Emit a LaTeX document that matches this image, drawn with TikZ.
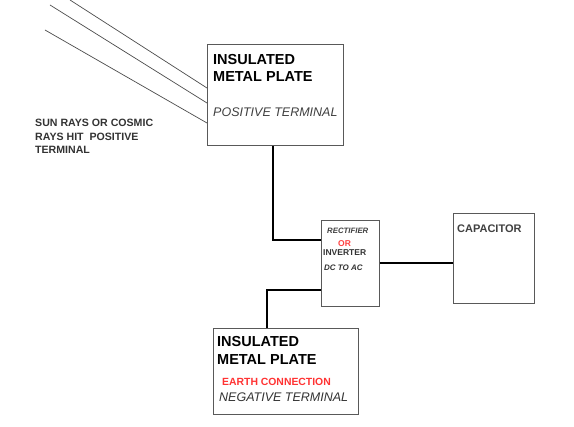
\documentclass[tikz,border=0pt]{standalone}
\usepackage{fontspec}
\setmainfont{Liberation Sans}
\begin{document}
\begin{tikzpicture}[x=1pt,y=-1pt,
  box/.style={draw=black!65,line width=0.8pt,inner sep=0pt,anchor=north west},
  wire/.style={line width=2.6pt,black},
  ray/.style={line width=0.7pt,black!70},
  lbl/.style={anchor=base west,inner sep=0pt,text=black!85}]
\useasboundingbox[fill=white] (0,0) rectangle (574,427);
% boxes
\node[box,minimum width=136pt,minimum height=101pt] (top) at (207,44) {};
\node[box,minimum width=58pt,minimum height=86pt] (rect) at (321,220) {};
\node[box,minimum width=81pt,minimum height=90pt] (cap) at (453,213) {};
\node[box,minimum width=145pt,minimum height=86pt] (bot) at (213,328) {};
% texts top box
\node[lbl,font=\fontsize{14.5}{16}\selectfont\bfseries,text=black] (t1) at (213,65) {INSULATED};
\node[lbl,font=\fontsize{14.5}{16}\selectfont\bfseries,text=black] (t2) at (213,82) {METAL PLATE};
\node[lbl,font=\fontsize{12.5}{14}\selectfont\itshape,text=black!75] (t3) at (213,117) {POSITIVE TERMINAL};
% sun text
\node[lbl,font=\fontsize{10.6}{12}\selectfont\bfseries,text=black!80] (s1) at (35,127) {SUN RAYS OR COSMIC};
\node[lbl,font=\fontsize{10.6}{12}\selectfont\bfseries,text=black!80] (s2) at (35,141) {RAYS HIT\ \ POSITIVE};
\node[lbl,font=\fontsize{10.6}{12}\selectfont\bfseries,text=black!80] (s3) at (35,154) {TERMINAL};
% rectifier
\node[lbl,font=\fontsize{7.8}{9}\selectfont\bfseries\itshape,text=black!75] (r1) at (327,234) {RECTIFIER};
\node[lbl,font=\fontsize{8.5}{9}\selectfont\bfseries,text=red!75] (r2) at (338,247) {OR};
\node[lbl,font=\fontsize{8.5}{9}\selectfont\bfseries,text=black!80] (r3) at (323,256) {INVERTER};
\node[lbl,font=\fontsize{8}{9}\selectfont\bfseries\itshape,text=black!80] (r4) at (324,271) {DC TO AC};
% capacitor
\node[lbl,font=\fontsize{11}{12}\selectfont\bfseries,text=black!75] (c1) at (457,233) {CAPACITOR};
% bottom box
\node[lbl,font=\fontsize{14.5}{16}\selectfont\bfseries,text=black] (b1) at (217,347) {INSULATED};
\node[lbl,font=\fontsize{14.5}{16}\selectfont\bfseries,text=black] (b2) at (217,365) {METAL PLATE};
\node[lbl,font=\fontsize{10.4}{12}\selectfont\bfseries,text=red!80] (b3) at (222,386) {EARTH CONNECTION};
\node[lbl,font=\fontsize{12.5}{14}\selectfont\itshape,text=black!80] (b4) at (219,402) {NEGATIVE TERMINAL};
% rays
\coordinate (ra) at (70,0);
\coordinate (rb) at (50,5);
\coordinate (rc) at (45,30);
\draw[ray] (ra) -- (top.west |- 0,88);
\draw[ray] (rb) -- (top.west |- 0,103);
\draw[ray] (rc) -- (top.west |- 0,123);
% wires
\draw[wire] (top.south -| 273,0) |- (rect.west |- 0,240);
\draw[wire] (rect.east |- 0,263) -- (cap.west |- 0,263);
\draw[wire] (rect.west |- 0,290) -| (bot.north -| 267,0);
\end{tikzpicture}
\end{document}
